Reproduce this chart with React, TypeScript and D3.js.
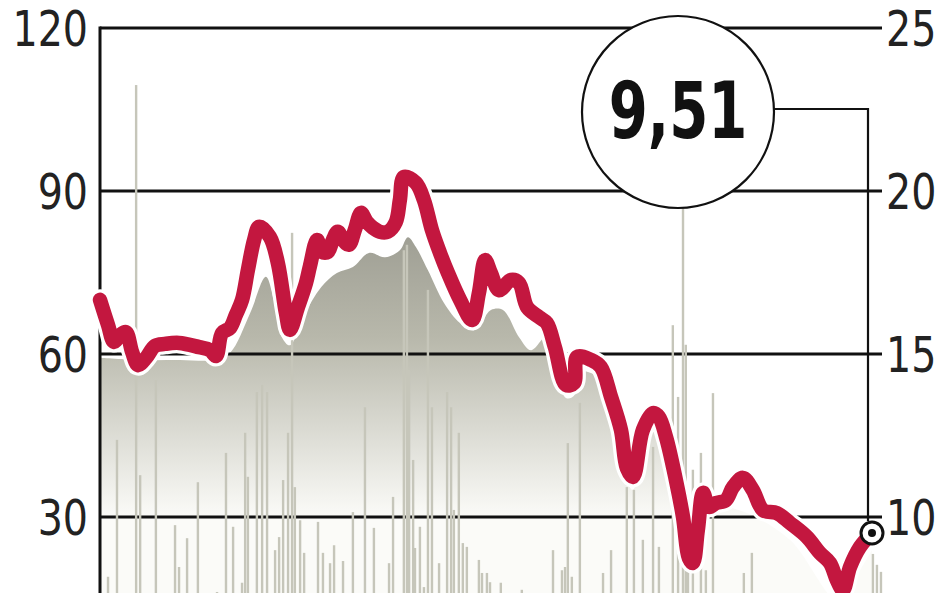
import React from "react";
import * as d3 from "d3";

// ---- data ----
const leftTicks = [30, 60, 90, 120];
const rightTicks = [10, 15, 20, 25];
const lastLabel = "9,51";

// price line (right axis), [trading day, price]
const priceDays = [0, 2.6, 4.5, 6.5, 8.4, 10.4, 12.3, 14.9, 17.8, 21, 25.6, 32.1, 35.6, 37.6, 39.5, 42.1, 44, 46, 47.9, 49.9, 51.5, 55, 57.6, 60.2, 61.5, 64.1, 66.7, 68, 70.3, 71.9, 73.8, 75.4, 77, 78.7, 80.6, 82.5, 84.5, 86.4, 88.4, 90.6, 93.2, 95.8, 97.1, 98.4, 102.3, 104.9, 107.5, 110.1, 112.7, 116.6, 120.5, 122.7, 124.7, 126.6, 129.2, 133.1, 135.7, 138.3, 142.2, 144.7, 147.3, 150.9, 153.5, 154.5, 159, 162.2, 165.5, 168.7, 170.6, 172.6, 175.8, 179.1, 181, 183.3, 186.5, 188.8, 190.7, 192, 193.6, 195.3, 197.2, 199.5, 202.7, 205, 208.2, 211.4, 214.7, 219.2, 223.4, 228.9, 233.1, 236.4, 238.6, 240.6, 242.9, 246.1, 250];
const priceValues = [16.66, 15.89, 15.37, 15.58, 15.67, 15.06, 14.66, 14.88, 15.25, 15.31, 15.34, 15.21, 15.12, 14.94, 15.64, 15.8, 16.2, 16.66, 17.58, 18.5, 18.9, 18.59, 17.79, 16.26, 15.74, 16.44, 17.18, 17.7, 18.5, 18.13, 18.13, 18.5, 18.75, 18.5, 18.35, 18.8, 19.33, 19.05, 18.87, 18.75, 18.75, 19.05, 19.72, 20.43, 20.25, 19.72, 18.8, 18.1, 17.48, 16.66, 16.04, 16.87, 17.88, 17.48, 16.96, 17.27, 17.18, 16.44, 16.13, 15.95, 15.21, 14.05, 14.11, 14.91, 14.82, 14.6, 13.68, 12.67, 11.5, 11.23, 12.67, 13.19, 13.07, 12.45, 11.13, 10.0, 8.74, 8.59, 9.6, 10.74, 10.31, 10.43, 10.52, 10.92, 11.2, 10.83, 10.21, 10.12, 9.82, 9.39, 8.9, 8.59, 8.07, 7.76, 8.47, 9.08, 9.51];

// shaded index area (left axis), [trading day, value]
const indexDays = [0, 13, 25.9, 37.2, 42.1, 48.6, 53.7, 56.3, 58.9, 61.5, 66.4, 71.6, 76.7, 81.9, 87.1, 92.3, 97.1, 99.7, 102.3, 106.2, 111.4, 116.6, 121.4, 126.6, 130.5, 135.7, 139.6, 144.7, 147.3, 150.9, 153.5, 154.5, 159, 162.2, 165.5, 168.7, 170.6, 172.6, 175.8, 179.1, 181, 183.3, 186.5, 188.8, 190.7, 192, 193.6, 195.3, 208.2, 223.4, 238.6, 242.9, 250];
const indexValues = [59.3, 58.9, 58.9, 58.9, 60.2, 67.5, 74.2, 69.9, 63.1, 61.6, 67.5, 72.3, 74.9, 76.0, 78.6, 77.8, 79.1, 81.5, 79.7, 75.4, 69.4, 65.7, 64.4, 68.1, 68.1, 63.1, 60.7, 63.3, 58.9, 51.9, 52.3, 56.7, 56.5, 55.2, 49.7, 43.6, 36.6, 35.0, 43.6, 46.7, 46.0, 42.3, 34.4, 27.6, 20.1, 19.1, 25.2, 32.0, 31.0, 25.8, 14.7, 17.5, 23.9];

// volume bars (left axis), [trading day, volume]
const volDays = [2.6, 5.5, 11.7, 13, 18.1, 24.3, 25.6, 28.2, 31.7, 37.9, 40.8, 43.1, 46, 47, 47.9, 50.8, 52.5, 54.1, 56.7, 58, 59.3, 60.9, 62.2, 63.1, 64.8, 66.1, 70.6, 72.2, 74.5, 75.8, 78.7, 81.9, 85.8, 88.7, 93.6, 94.9, 98.4, 99.4, 100.1, 101.4, 102, 103.6, 104.9, 106.2, 107.5, 109.8, 112.4, 113.7, 114.6, 116.2, 117.5, 118.8, 122.7, 123.7, 125.3, 126.3, 129.8, 136.6, 146.7, 149.6, 150.6, 151.5, 152.8, 155.4, 162.9, 165.5, 170.6, 172.9, 175.8, 179.1, 181, 185.5, 187.2, 188.8, 189.7, 190.4, 192, 194.6, 196.2, 198.5, 208.5, 211.1, 250.3, 251.6, 252.9];
const volValues = [19.0, 44.2, 109.5, 37.7, 55.2, 28.5, 20.8, 26.1, 36.4, 16.2, 41.8, 28.2, 17.9, 45.5, 37.4, 53.0, 54.3, 53.0, 23.9, 26.3, 36.8, 45.5, 82.3, 35.5, 29.4, 23.4, 29.1, 23.4, 21.5, 24.8, 21.9, 30.9, 50.2, 28.0, 21.5, 33.7, 79.1, 80.1, 57.1, 40.5, 24.3, 28.2, 17.1, 71.8, 50.2, 21.5, 53.0, 50.2, 31.3, 45.5, 25.2, 24.5, 22.1, 19.7, 19.7, 18.0, 17.9, 16.6, 23.9, 20.2, 20.8, 43.6, 19.0, 51.0, 19.7, 23.9, 35.5, 35.0, 25.8, 42.9, 24.5, 65.3, 52.1, 97.6, 61.7, 23.9, 38.7, 41.8, 20.2, 52.8, 19.7, 23.4, 23.2, 21.2, 19.9];

const W = 948;
const H = 593;
const FONT = "'DejaVu Sans Condensed', 'Liberation Sans Narrow', 'Liberation Sans', sans-serif";
const RED = "#c3173f";

export default function App() {
  const x = d3.scaleLinear().domain([0, 250]).range([100, 872]);
  const yL = d3.scaleLinear().domain([0, 120]).range([680, 28]);
  const yR = d3.scaleLinear().domain([0, 25]).range([843, 28]);

  const priceData = priceDays.map((d, i) => [d, priceValues[i]] as [number, number]);
  const indexData = indexDays.map((d, i) => [d, indexValues[i]] as [number, number]);
  const volData = volDays.map((d, i) => [d, volValues[i]] as [number, number]);

  const line = d3
    .line<[number, number]>()
    .x((d) => x(d[0]))
    .y((d) => yR(d[1]))
    .curve(d3.curveCatmullRom.alpha(0.5));
  const area = d3
    .area<[number, number]>()
    .x((d) => x(d[0]))
    .y0(yL(0))
    .y1((d) => yL(d[1]))
    .curve(d3.curveCatmullRom.alpha(0.5));

  const plotLeft = x(0);
  const gridRight = 882;
  const last = priceData[priceData.length - 1];
  const lx = x(last[0]);
  const ly = yR(last[1]);

  const cx = 678;
  const cy = 112;
  const cr = 96;
  const linePath = line(priceData) || "";

  return (
    <div style={{ position: "absolute", left: 0, top: 0, width: W, height: H, overflow: "hidden", background: "#fff" }}>
      <svg width={W} height={H} style={{ display: "block" }}>
        <defs>
          <linearGradient id="fillGrad" gradientUnits="userSpaceOnUse" x1="0" y1={yL(90)} x2="0" y2={yL(30)}>
            <stop offset="0" stopColor="#94948a" />
            <stop offset="0.45" stopColor="#b8b8ab" />
            <stop offset="1" stopColor="#fbfbf8" />
          </linearGradient>
          <clipPath id="plotClip">
            <rect x={plotLeft} y={0} width={W - plotLeft} height={H} />
          </clipPath>
        </defs>

        {/* shaded area */}
        <path d={area(indexData) || ""} fill="url(#fillGrad)" clipPath="url(#plotClip)" />

        {/* grid lines */}
        {leftTicks.map((t) => (
          <line key={"g" + t} x1={plotLeft} x2={gridRight} y1={yL(t)} y2={yL(t)} stroke="#111" strokeWidth={3} />
        ))}
        {/* left axis line */}
        <line x1={plotLeft} x2={plotLeft} y1={yL(120) - 1.5} y2={H} stroke="#111" strokeWidth={3} />

        {/* volume bars */}
        {volData.map((d, i) => (
          <rect key={"b" + i} x={x(d[0]) - 1.2} width={2.4} y={yL(d[1])} height={yL(0) - yL(d[1])} fill="#c6c6ba" />
        ))}

        {/* price line */}
        <path d={linePath} fill="none" stroke="#ffffff" strokeWidth={21} strokeLinejoin="round" strokeLinecap="round" />
        <path d={linePath} fill="none" stroke={RED} strokeWidth={14.5} strokeLinejoin="round" strokeLinecap="round" />

        {/* annotation */}
        <polyline points={`${cx + cr},${cy - 3} ${lx - 4},${cy - 3} ${lx - 4},${ly - 12}`} fill="none" stroke="#111" strokeWidth={2.2} />
        <circle cx={cx} cy={cy} r={cr} fill="#fff" stroke="#111" strokeWidth={2.2} />
        <text transform={`translate(${cx},${cy + 26}) scale(0.8,1)`} textAnchor="middle" fontFamily={FONT} fontWeight={700} fontSize={78} fill="#111">
          {lastLabel}
        </text>
        <circle cx={lx} cy={ly} r={11} fill="#fff" stroke="#111" strokeWidth={3} />
        <circle cx={lx} cy={ly} r={4} fill="#111" />

        {/* axis labels */}
        {leftTicks.map((t) => (
          <text key={"l" + t} transform={`translate(88,${yL(t) + 18}) scale(0.88,1)`} textAnchor="end" fontFamily={FONT} fontSize={50} fill="#222">
            {t}
          </text>
        ))}
        {rightTicks.map((t) => (
          <text key={"r" + t} transform={`translate(886,${yR(t) + 18}) scale(0.88,1)`} textAnchor="start" fontFamily={FONT} fontSize={50} fill="#222">
            {t}
          </text>
        ))}
      </svg>
    </div>
  );
}
